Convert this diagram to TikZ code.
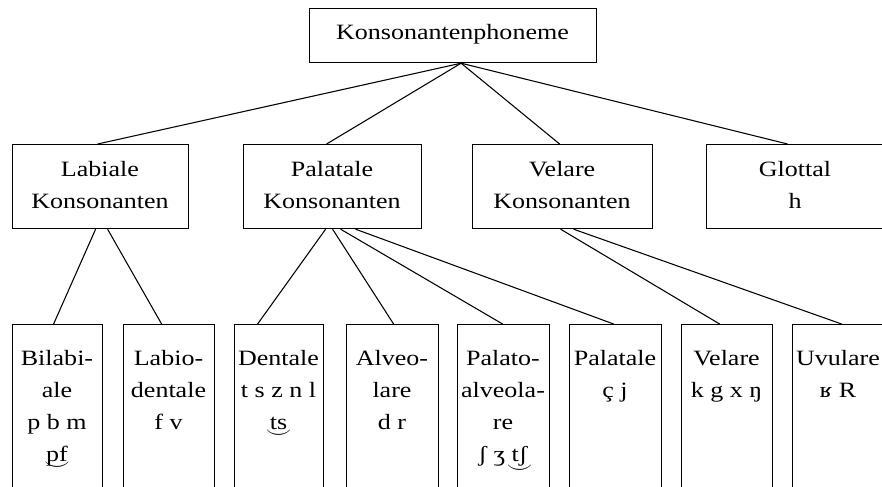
\documentclass[tikz,border=0pt]{standalone}
\usepackage{fontspec}
\setmainfont{Liberation Serif}[FakeStretch=1.19]
\usepackage{graphicx}
\usetikzlibrary{calc}
\newbox\tbbox
\newcommand\tb[2][-0.42em]{\leavevmode\setbox\tbbox\hbox{#2}\rlap{\hbox to\wd\tbbox{\hss\raisebox{#1}{\scalebox{1.15}[1]{$\smile$}}\hss}}\box\tbbox}
\begin{document}
\begin{tikzpicture}[x=0.75pt,y=-0.75pt,
  box/.style 2 args={draw, line width=0.9pt, inner sep=0pt, anchor=north west,
    minimum width=#1*0.75pt, minimum height=#2*0.75pt},
  lbl/.style={inner sep=0pt, align=center, anchor=north,
    font=\fontsize{16.4pt}{24pt}\selectfont},
  link/.style={line width=0.8pt}]
\useasboundingbox (0,0) rectangle (882,486);
\begin{scope}
\clip (0,0) rectangle (882,486);
% boxes
\node[box={287}{54}] (top) at (309,8) {};
\node[box={176}{84}] (lab) at (12,144) {};
\node[box={178}{84}] (pal) at (243,144) {};
\node[box={180}{84}] (vel) at (472,144) {};
\node[box={178}{84}] (glo) at (706,144) {};
\node[box={90}{200}] (bil) at (12,324) {};
\node[box={91}{200}] (lbd) at (123,324) {};
\node[box={89}{200}] (den) at (234,324) {};
\node[box={92}{200}] (alv) at (346,324) {};
\node[box={92}{200}] (pla) at (457,324) {};
\node[box={92}{200}] (plt) at (569,324) {};
\node[box={91}{200}] (vlr) at (681,324) {};
\node[box={91}{200}] (uvu) at (792,324) {};
% labels
\node[lbl] (top-t) at (452.5,16.6) {\strut Konsonantenphoneme};
\node[lbl] (lab-t) at (100,153.6) {\strut Labiale\\Konsonanten};
\node[lbl] (pal-t) at (332,153.6) {\strut Palatale\\Konsonanten};
\node[lbl] (vel-t) at (562,153.6) {\strut Velare\\Konsonanten};
\node[lbl] (glo-t) at (795,153.6) {\strut Glottal\\h};
\node[lbl] (bil-t) at (57,342.6) {\strut Bilabi-\\ale\\p b m\\\tb{pf}};
\node[lbl] (lbd-t) at (168.5,342.6) {\strut Labio-\\dentale\\f v};
\node[lbl] (den-t) at (278.5,342.6) {\strut Dentale\\t s z n l\\\tb{ts}};
\node[lbl] (alv-t) at (392,342.6) {\strut Alveo-\\lare\\d r};
\node[lbl] (pla-t) at (503,342.6) {\strut Palato-\\alveola-\\re\\ʃ ʒ \tb[-0.55em]{tʃ}};
\node[lbl] (plt-t) at (615,342.6) {\strut Palatale\\ç j};
\node[lbl] (vlr-t) at (726.5,342.6) {\strut Velare\\k g x ŋ};
\node[lbl] (uvu-t) at (838,342.6) {\strut Uvulare\\ʁ R};
% connectors
\draw[link] ($(top.south)+(8,0)$) -- ($(lab.north)+(-3,0)$);
\draw[link] ($(top.south)+(8,0)$) -- ($(pal.north)+(-6,0)$);
\draw[link] ($(top.south)+(8,0)$) -- ($(vel.north)+(-3,0)$);
\draw[link] ($(top.south)+(8,0)$) -- ($(glo.north)+(-8,0)$);
\draw[link] ($(lab.south)+(-5,0)$) -- ($(bil.north)+(-4,0)$);
\draw[link] ($(lab.south)+(7,0)$) -- ($(lbd.north)+(-7.5,0)$);
\draw[link] ($(pal.south)+(-7,0)$) -- ($(den.north)+(-21.5,0)$);
\draw[link] ($(pal.south)+(0,0)$) -- ($(alv.north)+(1,0)$);
\draw[link] ($(pal.south)+(8,0)$) -- ($(pla.north)+(-1,0)$);
\draw[link] ($(pal.south)+(23,0)$) -- ($(plt.north)+(-2,0)$);
\draw[link] ($(vel.south)+(-2,0)$) -- ($(vlr.north)+(-7.5,0)$);
\draw[link] ($(vel.south)+(11,0)$) -- ($(uvu.north)+(3.5,0)$);
\end{scope}
\end{tikzpicture}
\end{document}
